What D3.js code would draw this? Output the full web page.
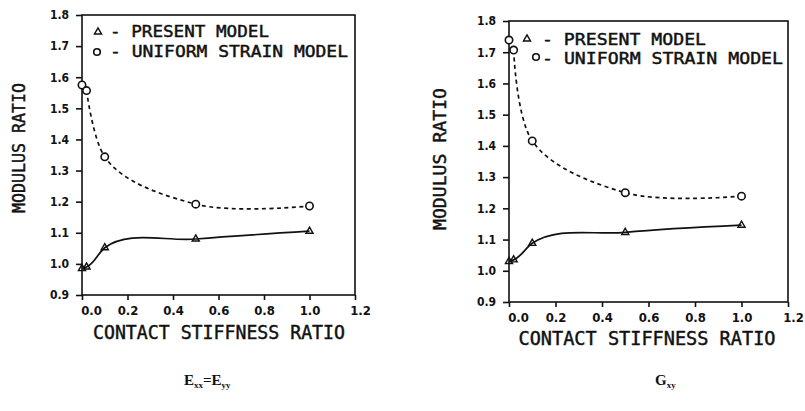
<!DOCTYPE html>
<html>
<head>
<meta charset="utf-8">
<script src="https://cdn.jsdelivr.net/npm/d3@7"></script>
<style>
  html, body { margin: 0; padding: 0; background: #fff; }
  svg { display: block; }
  .tick-lbl { font-family: "DejaVu Sans Condensed", "DejaVu Sans", sans-serif; font-weight: bold; fill: #111; }
  .plot-txt { font-family: "DejaVu Sans Mono", monospace; fill: #111; stroke: #111; stroke-width: 0.45px; }
  .sub-txt { font-family: "Liberation Serif", serif; font-weight: bold; fill: #111; }
</style>
</head>
<body>
<svg id="chart" width="805" height="411"></svg>
<script>
// contact stiffness ratio (x) and modulus ratios
const stiffness = [0, 0.02, 0.1, 0.5, 1.0];
const exxPresent = [0.985, 0.99, 1.052, 1.08, 1.105];
const exxUniform = [1.575, 1.557, 1.344, 1.192, 1.186];
const gxyPresent = [1.03, 1.035, 1.088, 1.123, 1.146];
const gxyUniform = [1.739, 1.707, 1.416, 1.25, 1.239];

const xTicks = [0, 0.2, 0.4, 0.6, 0.8, 1.0, 1.2];
const yTicks = [0.9, 1.0, 1.1, 1.2, 1.3, 1.4, 1.5, 1.6, 1.7, 1.8];

const legendLabels = ["PRESENT MODEL", "UNIFORM STRAIN MODEL"];
const xTitle = "CONTACT STIFFNESS RATIO";
const yTitle = "MODULUS RATIO";

// panel layout (pixels)
const panels = [
    {
        present: exxPresent, uniform: exxUniform,
        x0: 82, x1: 355, yTop: 15, yBot: 295,
        legend: { sym: [98, 97], symY: [32, 52], x: 110, base: [37, 57], len: [159, 238] },
        yTitle: { x: 19, y: 148, len: 130 },
        xTitle: { x: 219, base: 338.5, len: 252 }
    },
    {
        present: gxyPresent, uniform: gxyUniform,
        x0: 509, x1: 788, yTop: 21, yBot: 302,
        legend: { sym: [527, 536], symY: [39, 57], x: 542, base: [45, 64], len: [164, 241] },
        yTitle: { x: 440, y: 159, len: 142 },
        xTitle: { x: 647, base: 344.5, len: 257 }
    }
];

const svg = d3.select("#chart");
const tri = d3.symbol().type(d3.symbolTriangle).size(22);

function drawPanel(p) {
    const g = svg.append("g");
    const x = d3.scaleLinear().domain([0, 1.2]).range([p.x0, p.x1]);
    const y = d3.scaleLinear().domain([0.9, 1.8]).range([p.yBot, p.yTop]);

    // frame
    g.append("rect")
        .attr("x", p.x0).attr("y", p.yTop)
        .attr("width", p.x1 - p.x0).attr("height", p.yBot - p.yTop)
        .attr("fill", "none").attr("stroke", "#111").attr("stroke-width", 1.6);

    // y axis
    const ya = d3.axisLeft(y).tickValues(yTicks).tickSize(6).tickPadding(7)
        .tickFormat(d3.format(".1f"));
    const yg = g.append("g").attr("transform", `translate(${p.x0},0)`).call(ya);
    yg.select(".domain").remove();
    yg.selectAll("line").attr("stroke", "#111").attr("stroke-width", 1.6);
    yg.selectAll("text").attr("class", "tick-lbl").attr("font-size", 12).attr("fill", "#111");

    // x axis
    const xa = d3.axisBottom(x).tickValues(xTicks).tickSize(5).tickPadding(6)
        .tickFormat(d3.format(".1f"));
    const xg = g.append("g").attr("transform", `translate(0,${p.yBot})`).call(xa);
    xg.select(".domain").remove();
    xg.selectAll("line").attr("stroke", "#111").attr("stroke-width", 1.6);
    xg.selectAll("text").attr("class", "tick-lbl").attr("font-size", 13).attr("fill", "#111")
        .attr("dx", d => d === 0 ? 9 : (d === 1.2 ? 5 : 0));

    // curves
    const line = d3.line().x(d => x(d[0])).y(d => y(d[1])).curve(d3.curveCatmullRom.alpha(1));
    const pres = stiffness.map((s, i) => [s, p.present[i]]);
    const unif = stiffness.map((s, i) => [s, p.uniform[i]]);

    g.append("path").datum(unif.slice(1))
        .attr("d", line).attr("fill", "none").attr("stroke", "#111")
        .attr("stroke-width", 1.7).attr("stroke-dasharray", "4,3.5");
    g.append("path").datum(pres)
        .attr("d", line).attr("fill", "none").attr("stroke", "#111")
        .attr("stroke-width", 1.7);

    // markers
    g.selectAll("circle.pt").data(unif).join("circle").attr("class", "pt")
        .attr("cx", d => x(d[0])).attr("cy", d => y(d[1])).attr("r", 3.7)
        .attr("fill", "#fff").attr("stroke", "#111").attr("stroke-width", 1.6);
    g.selectAll("path.tri").data(pres).join("path").attr("class", "tri")
        .attr("d", tri).attr("transform", d => `translate(${x(d[0])},${y(d[1])})`)
        .attr("fill", "none").attr("stroke", "#111").attr("stroke-width", 1.4);

    // legend
    const L = p.legend;
    g.append("path").attr("d", tri).attr("transform", `translate(${L.sym[0]},${L.symY[0]})`)
        .attr("fill", "none").attr("stroke", "#111").attr("stroke-width", 1.4);
    g.append("circle").attr("cx", L.sym[1]).attr("cy", L.symY[1]).attr("r", 3.3)
        .attr("fill", "none").attr("stroke", "#111").attr("stroke-width", 1.6);
    legendLabels.forEach((t, i) => {
        g.append("text").attr("class", "plot-txt")
            .attr("x", L.x).attr("y", L.base[i]).attr("font-size", 16)
            .attr("textLength", L.len[i]).attr("lengthAdjust", "spacingAndGlyphs")
            .text("- " + t);
    });

    // axis titles
    g.append("text").attr("class", "plot-txt")
        .attr("transform", `translate(${p.yTitle.x + 6},${p.yTitle.y}) rotate(-90)`)
        .attr("text-anchor", "middle").attr("font-size", 18)
        .attr("textLength", p.yTitle.len).attr("lengthAdjust", "spacingAndGlyphs")
        .text(yTitle);
    g.append("text").attr("class", "plot-txt")
        .attr("x", p.xTitle.x).attr("y", p.xTitle.base)
        .attr("text-anchor", "middle").attr("font-size", 19)
        .attr("textLength", p.xTitle.len).attr("lengthAdjust", "spacingAndGlyphs")
        .text(xTitle);
}

panels.forEach(drawPanel);

// captions under the panels
const c1 = svg.append("text").attr("class", "sub-txt").attr("x", 184).attr("y", 385).attr("font-size", 15);
c1.append("tspan").text("E");
c1.append("tspan").attr("dy", 3).attr("font-size", 9).text("xx");
c1.append("tspan").attr("dy", -3).text("=E");
c1.append("tspan").attr("dy", 3).attr("font-size", 9).text("yy");

const c2 = svg.append("text").attr("class", "sub-txt").attr("x", 655).attr("y", 385).attr("font-size", 15);
c2.append("tspan").text("G");
c2.append("tspan").attr("dy", 3).attr("font-size", 9).text("xy");
</script>
</body>
</html>
